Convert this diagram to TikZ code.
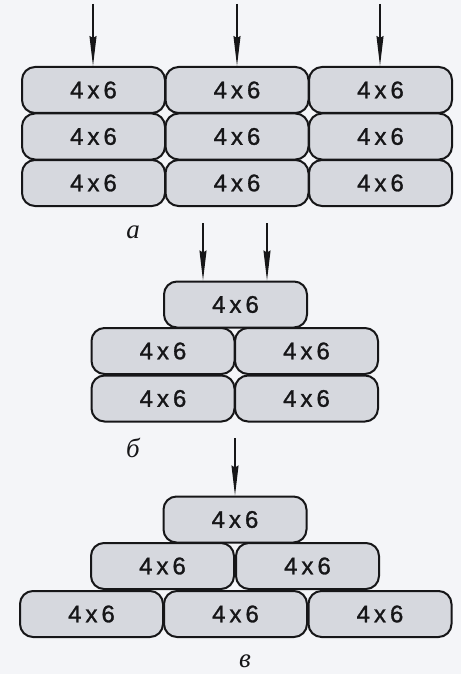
\documentclass[tikz,border=0pt]{standalone}
\usepackage{fontspec}
\setmainfont{Liberation Sans}
\newfontfamily\labelfont{Liberation Serif}
\newfontfamily\brickfont[FakeBold=1.2]{Liberation Sans}
\usetikzlibrary{arrows.meta}

\definecolor{brickfill}{RGB}{214,216,222}
\definecolor{paper}{RGB}{244,245,248}
\definecolor{ink}{RGB}{22,22,24}

\tikzset{
  brick/.style={draw=ink, line width=2pt, fill=brickfill,
    rounded corners=13pt, minimum width=143pt, minimum height=46pt,
    inner sep=0pt, font=\brickfont\fontsize{24}{24}\selectfont, text=ink},
  load/.style={draw=ink, line width=1.4pt,
    -{Stealth[length=30pt, width=7pt, inset=2pt]}},
  caption/.style={font=\labelfont\itshape\fontsize{27}{27}\selectfont, text=ink}
}

\newcommand{\sz}{4\,x\,6}

\begin{document}
\begin{tikzpicture}[x=1pt, y=-1pt]
  \useasboundingbox (0,0) rectangle (461,674);
  \fill[paper] (0,0) rectangle (461,674);

  % --- a: three stacks of three bricks
  \foreach \c/\x in {1/93.5, 2/237, 3/380.5}{
    \foreach \r/\y in {1/90, 2/136.5, 3/183}{
      \node[brick] (a\c\r) at (\x,\y) {\sz};
    }
  }
  \coordinate (fa1) at (93,4);
  \coordinate (fa2) at (237,4);
  \coordinate (fa3) at (380,4);
  \foreach \c in {1,2,3}{
    \draw[load] (fa\c) -- (fa\c |- a\c1.north);
  }
  \node[caption] (capa) at (133,232) {а};

  % --- б: one brick on top of two stacks of two
  \node[brick] (b1) at (235.5,304.5) {\sz};
  \node[brick] (b21) at (163,351) {\sz};
  \node[brick] (b22) at (306.5,351) {\sz};
  \node[brick] (b31) at (163,398.5) {\sz};
  \node[brick] (b32) at (306.5,398.5) {\sz};
  \coordinate (fb1) at (203,223);
  \coordinate (fb2) at (267,223);
  \draw[load] (fb1) -- (fb1 |- b1.north);
  \draw[load] (fb2) -- (fb2 |- b1.north);
  \node[caption] (capb) at (133,448) {б};

  % --- в: pyramid of 1, 2 and 3 bricks
  \node[brick] (c1) at (235,519.5) {\sz};
  \node[brick] (c21) at (162.5,566) {\sz};
  \node[brick] (c22) at (307.5,566) {\sz};
  \node[brick] (c31) at (91.5,614) {\sz};
  \node[brick] (c32) at (235.5,614) {\sz};
  \node[brick] (c33) at (380,614) {\sz};
  \coordinate (fc) at (235,438);
  \draw[load] (fc) -- (fc |- c1.north);
  \node[caption] (capc) at (245,661) {в};
\end{tikzpicture}
\end{document}
